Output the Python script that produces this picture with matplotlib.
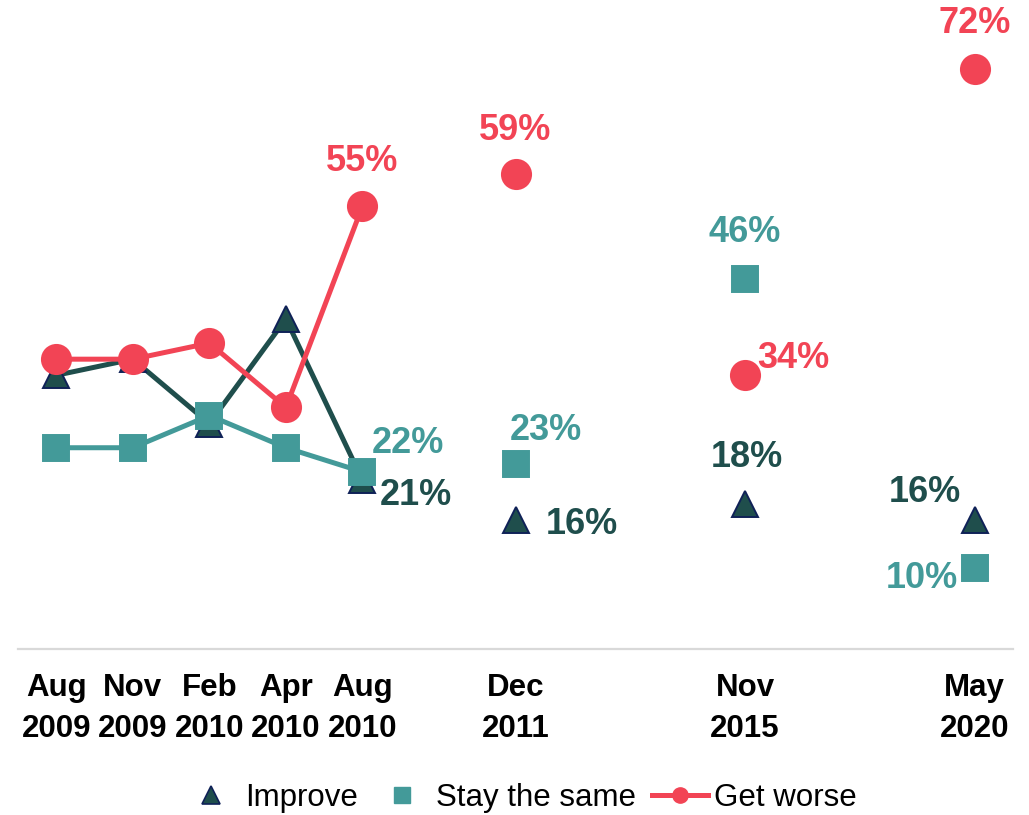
import matplotlib.pyplot as plt
from matplotlib.lines import Line2D

plt.rcParams['font.family'] = ['Liberation Sans', 'DejaVu Sans']

# survey waves (gaps in the x positions follow the original chart spacing)
waves = ['Aug\n2009', 'Nov\n2009', 'Feb\n2010', 'Apr\n2010', 'Aug\n2010',
         'Dec\n2011', 'Nov\n2015', 'May\n2020']
wave_pos = [0, 1, 2, 3, 4, 6, 9, 12]

improve = [34, 36, 28, 41, 21, 16, 18, 16]
stay_same = [25, 25, 29, 25, 22, 23, 46, 10]
get_worse = [36, 36, 38, 30, 55, 59, 34, 72]

RED = '#F24455'
TEAL = '#439A99'
DARK = '#1F4E4C'
NAVY = '#0F2157'


def plot_series(ax, vals, color, marker, ms, edge, z):
    # first five waves are joined, the later ones are single points
    ax.plot(wave_pos[:5], vals[:5], color=color, lw=3.6, marker=marker, ms=ms,
            mfc=color, mec=edge, mew=1.4, zorder=z)
    ax.plot(wave_pos[5:], vals[5:], ls='none', marker=marker, ms=ms,
            mfc=color, mec=edge, mew=1.4, zorder=z)


def label(ax, i, vals, color, dx, dy):
    ax.annotate(f'{vals[i]}%', (wave_pos[i], vals[i]), xytext=(dx * 0.72, -dy * 0.72),
                textcoords='offset points', ha='center', va='center',
                fontsize=26, fontweight='bold', color=color, zorder=10)


fig = plt.figure(figsize=(10.29, 8.15), dpi=100)
ax = fig.add_axes([0.0175, 0.2037, 0.967, 0.7902])

plot_series(ax, improve, DARK, '^', 19, NAVY, 3)
plot_series(ax, stay_same, TEAL, 's', 19, TEAL, 4)
plot_series(ax, get_worse, RED, 'o', 21, RED, 5)

# data labels, offsets in pixels (dx right, dy down)
label(ax, 4, get_worse, RED, 0, -45)
label(ax, 5, get_worse, RED, 0, -44)
label(ax, 7, get_worse, RED, 0, -46)
label(ax, 6, get_worse, RED, 48, -17)
label(ax, 6, stay_same, TEAL, 0, -46)
label(ax, 4, stay_same, TEAL, 45, -28)
label(ax, 5, stay_same, TEAL, 30, -33)
label(ax, 7, stay_same, TEAL, -53, 10)
label(ax, 4, improve, DARK, 53, 16)
label(ax, 5, improve, DARK, 66, 4)
label(ax, 6, improve, DARK, 2, -47)
label(ax, 7, improve, DARK, -50, -28)

ax.set_xlim(-0.5, 12.5)
ax.set_ylim(0, 80)
ax.set_yticks([])
ax.set_xticks(wave_pos)
ax.set_xticklabels(waves, fontsize=22.5, fontweight='bold', linespacing=1.5)
ax.tick_params(axis='x', length=0, pad=17)
for s in ['top', 'left', 'right']:
    ax.spines[s].set_visible(False)
ax.spines['bottom'].set_color('#D9D9D9')
ax.spines['bottom'].set_linewidth(1.6)

handles = [
    Line2D([], [], ls='none', marker='^', ms=13, mfc=DARK, mec=NAVY, mew=1.2),
    Line2D([], [], ls='none', marker='s', ms=11, mfc=TEAL, mec=TEAL),
    Line2D([], [], color=RED, lw=3.6, marker='o', ms=11, mfc=RED, mec=RED),
]
fig.legend(handles, ['Improve', 'Stay the same', 'Get worse'], loc='center',
           bbox_to_anchor=(0.505, 0.021), ncol=3, frameon=False, fontsize=22.5,
           handlelength=1.8, handletextpad=0.2, columnspacing=0.5)

fig.savefig('out.png', dpi=100)
